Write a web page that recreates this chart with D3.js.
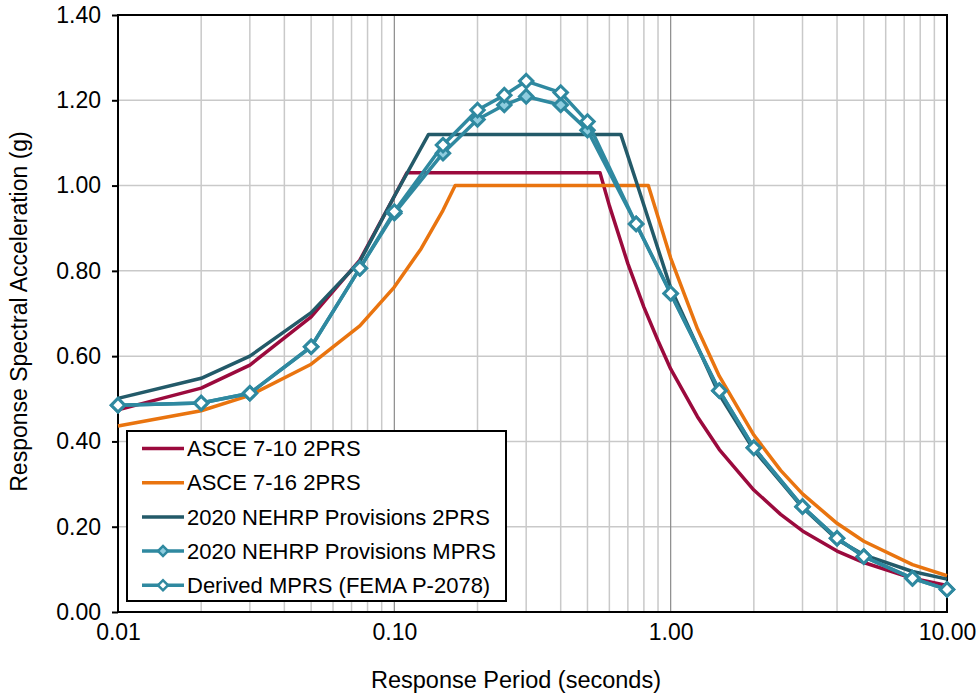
<!DOCTYPE html>
<html>
<head>
<meta charset="utf-8">
<script src="https://cdn.jsdelivr.net/npm/d3@7"></script>
<style>
  body { margin: 0; background: #fff; }
  svg text { font-family: 'Liberation Sans', Arial, sans-serif; }
</style>
</head>
<body>
<div id="chart"></div>
<script>
// values
const periodsMprs = [0.01, 0.02, 0.03, 0.05, 0.075, 0.1, 0.15, 0.2, 0.25, 0.3, 0.4, 0.5, 0.75, 1, 1.5, 2, 3, 4, 5, 7.5, 10];
const derivedMprs = [0.485, 0.49, 0.513, 0.622, 0.806, 0.939, 1.095, 1.177, 1.212, 1.245, 1.218, 1.150, 0.910, 0.747, 0.519, 0.385, 0.247, 0.173, 0.130, 0.079, 0.053];
const nehrpMprs = [0.485, 0.49, 0.513, 0.622, 0.806, 0.935, 1.076, 1.155, 1.189, 1.209, 1.189, 1.130, 0.910, 0.747, 0.519, 0.385, 0.247, 0.173, 0.130, 0.079, 0.053];

const periods710 = [0.01, 0.02, 0.03, 0.05, 0.075, 0.1, 0.111, 0.555, 0.6, 0.7, 0.8, 0.9, 1, 1.25, 1.5, 2, 2.5, 3, 4, 5, 7.5, 10];
const asce710 = [0.474, 0.525, 0.579, 0.692, 0.825, 0.975, 1.03, 1.03, 0.953, 0.817, 0.715, 0.636, 0.570, 0.458, 0.381, 0.286, 0.229, 0.190, 0.143, 0.116, 0.079, 0.062];

const periods716 = [0.01, 0.02, 0.03, 0.05, 0.075, 0.1, 0.125, 0.15, 0.166, 0.83, 1, 1.25, 1.5, 2, 2.5, 3, 4, 5, 7.5, 10];
const asce716 = [0.436, 0.472, 0.508, 0.581, 0.671, 0.762, 0.852, 0.942, 1.0, 1.0, 0.83, 0.664, 0.553, 0.415, 0.332, 0.277, 0.208, 0.166, 0.111, 0.085];

const periods2020 = [0.01, 0.02, 0.03, 0.05, 0.075, 0.1, 0.133, 0.66, 0.75, 1, 1.5, 2, 3, 4, 5, 7.5, 10];
const nehrp2prs = [0.501, 0.548, 0.600, 0.702, 0.822, 0.975, 1.12, 1.12, 1.01, 0.76, 0.51, 0.38, 0.245, 0.170, 0.134, 0.095, 0.077];

const xTicks = [0.01, 0.1, 1, 10];
const yTicks = [0, 0.2, 0.4, 0.6, 0.8, 1.0, 1.2, 1.4];

const seriesNames = ['ASCE 7-10 2PRS', 'ASCE 7-16 2PRS', '2020 NEHRP Provisions 2PRS', '2020 NEHRP Provisions MPRS', 'Derived MPRS (FEMA P-2078)'];

const width = 980;
const height = 696;
const margin = { top: 15, right: 33, bottom: 84, left: 118 };

const series = [
  { name: seriesNames[0], xs: periods710, ys: asce710, color: '#9B0A3D', marker: null },
  { name: seriesNames[1], xs: periods716, ys: asce716, color: '#E9740F', marker: null },
  { name: seriesNames[2], xs: periods2020, ys: nehrp2prs, color: '#235A69', marker: null },
  { name: seriesNames[3], xs: periodsMprs, ys: nehrpMprs, color: '#2F89A0', marker: '#8ECCDE' },
  { name: seriesNames[4], xs: periodsMprs, ys: derivedMprs, color: '#2F89A0', marker: '#ffffff' },
];

const svg = d3.select('#chart').append('svg')
  .attr('width', width)
  .attr('height', height);

const x = d3.scaleLog()
  .domain([0.01, 10])
  .range([margin.left, width - margin.right]);

const y = d3.scaleLinear()
  .domain([0, 1.4])
  .range([height - margin.bottom, margin.top]);

// gridlines
const grid = svg.append('g').attr('class', 'grid');
const minor = x.ticks().filter((t) => xTicks.indexOf(t) < 0);
grid.selectAll('.vminor')
  .data(minor)
  .enter().append('line')
  .attr('x1', (d) => x(d)).attr('x2', (d) => x(d))
  .attr('y1', y(0)).attr('y2', y(1.4))
  .attr('stroke', '#c9c9c9')
  .attr('stroke-width', 1.5);

grid.selectAll('.hgrid')
  .data(yTicks.slice(1, -1))
  .enter().append('line')
  .attr('x1', x(0.01)).attr('x2', x(10))
  .attr('y1', (d) => y(d)).attr('y2', (d) => y(d))
  .attr('stroke', '#c9c9c9')
  .attr('stroke-width', 1.5);

grid.selectAll('.vmajor')
  .data([0.1, 1])
  .enter().append('line')
  .attr('x1', (d) => x(d)).attr('x2', (d) => x(d))
  .attr('y1', y(0)).attr('y2', y(1.4))
  .attr('stroke', '#8a8a8a')
  .attr('stroke-width', 1.2);

// axes
const yAxis = d3.axisLeft(y)
  .tickValues(yTicks)
  .tickFormat(d3.format('.2f'))
  .tickSize(6)
  .tickPadding(11);

svg.append('g')
  .attr('transform', `translate(${margin.left},0)`)
  .call(yAxis)
  .call((g) => g.select('.domain').remove())
  .call((g) => g.selectAll('line').attr('stroke', '#000').attr('stroke-width', 2))
  .call((g) => g.selectAll('text').attr('font-size', 23).attr('fill', '#000'));

const xAxis = d3.axisBottom(x)
  .tickValues(xTicks)
  .tickFormat(d3.format('.2f'))
  .tickSize(0)
  .tickPadding(12);

svg.append('g')
  .attr('transform', `translate(0,${y(0)})`)
  .call(xAxis)
  .call((g) => g.select('.domain').remove())
  .call((g) => g.selectAll('text').attr('font-size', 23).attr('fill', '#000'));

// plot frame
svg.append('rect')
  .attr('x', x(0.01)).attr('y', y(1.4))
  .attr('width', x(10) - x(0.01))
  .attr('height', y(0) - y(1.4))
  .attr('fill', 'none')
  .attr('stroke', '#000')
  .attr('stroke-width', 2);

// series
const line = d3.line()
  .x((d) => x(d[0]))
  .y((d) => y(d[1]));

const diamond = d3.symbol().type(d3.symbolSquare).size(90);

series.forEach((s) => {
  const pts = s.xs.map((t, i) => [t, s.ys[i]]);
  const g = svg.append('g');
  g.append('path')
    .datum(pts)
    .attr('d', line)
    .attr('fill', 'none')
    .attr('stroke', s.color)
    .attr('stroke-width', 3.5)
    .attr('stroke-linejoin', 'round');
  if (s.marker) {
    g.selectAll('.pt')
      .data(pts)
      .enter().append('path')
      .attr('d', diamond)
      .attr('transform', (d) => `translate(${x(d[0])},${y(d[1])}) rotate(45)`)
      .attr('fill', s.marker)
      .attr('stroke', s.color)
      .attr('stroke-width', 3);
  }
});

// axis titles
svg.append('text')
  .attr('x', 516)
  .attr('y', 688)
  .attr('text-anchor', 'middle')
  .attr('font-size', 23.5)
  .text('Response Period (seconds)');

svg.append('text')
  .attr('transform', `translate(27,${(y(0) + y(1.4)) / 2 - 2}) rotate(-90)`)
  .attr('text-anchor', 'middle')
  .attr('font-size', 23)
  .text('Response Spectral Acceleration (g)');

// legend
const legend = svg.append('g').attr('transform', 'translate(127,431)');
legend.append('rect')
  .attr('width', 379)
  .attr('height', 170)
  .attr('fill', '#fff')
  .attr('stroke', '#000')
  .attr('stroke-width', 2);

const item = legend.selectAll('.item')
  .data(series)
  .enter().append('g')
  .attr('transform', (d, i) => `translate(0,${17.5 + i * 34.2})`);

item.append('line')
  .attr('x1', 15).attr('x2', 57)
  .attr('stroke', (d) => d.color)
  .attr('stroke-width', 3.5);

item.filter((d) => d.marker)
  .append('path')
  .attr('d', d3.symbol().type(d3.symbolSquare).size(50))
  .attr('transform', 'translate(36,0) rotate(45)')
  .attr('fill', (d) => d.marker)
  .attr('stroke', (d) => d.color)
  .attr('stroke-width', 2.5);

item.append('text')
  .attr('x', 60)
  .attr('dy', '0.35em')
  .attr('font-size', 22)
  .text((d) => d.name);
</script>
</body>
</html>
